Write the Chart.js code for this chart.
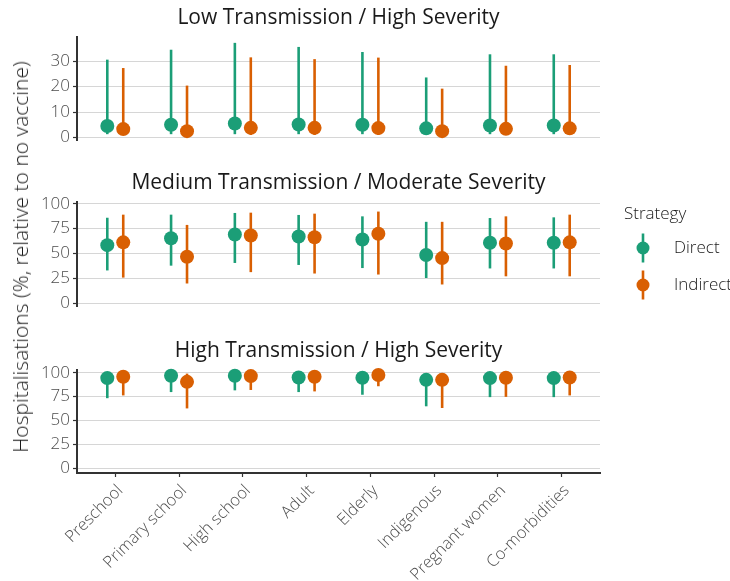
<!DOCTYPE html>
<html>
<head>
<meta charset="utf-8">
<script src="https://cdn.jsdelivr.net/npm/chart.js@4.4.1/dist/chart.umd.min.js"></script>
<style>
  body { margin: 0; background: #fff; }
  #wrap { position: relative; width: 730px; height: 581px; overflow: hidden; }
  canvas { position: absolute; left: 0; }
  #ytitle {
    position: absolute; left: 20px; top: 257px; white-space: nowrap;
    font-family: 'Open Sans', sans-serif; font-weight: 300; font-size: 21px; color: #1a1a1a;
    transform: translate(-50%, -50%) rotate(-90deg);
  }
</style>
</head>
<body>
<div id="wrap">
  <canvas id="low" width="730" height="154" style="top:0px"></canvas>
  <canvas id="medium" width="730" height="155" style="top:165px"></canvas>
  <canvas id="high" width="730" height="249" style="top:333px"></canvas>
  <div id="ytitle">Hospitalisations (%, relative to no vaccine)</div>
</div>
<script>
var categories = ['Preschool', 'Primary school', 'High school', 'Adult', 'Elderly', 'Indigenous', 'Pregnant women', 'Co-morbidities'];
var strategies = ['Direct', 'Indirect'];
var strategyColors = ['#1b9e77', '#d95f02'];

// Low Transmission / High Severity
var lowDirectMid = [4.5, 5.0, 5.5, 5.1, 5.0, 3.6, 4.7, 4.7];
var lowDirectLow = [1.3, 1.3, 1.3, 1.3, 1.3, 1.2, 1.3, 1.3];
var lowDirectHigh = [30.6, 34.5, 37.2, 35.6, 33.6, 23.6, 32.7, 32.7];
var lowIndirectMid = [3.3, 2.5, 3.8, 3.8, 3.7, 2.5, 3.4, 3.6];
var lowIndirectLow = [1.0, 0.8, 1.0, 1.0, 1.0, 0.8, 1.0, 1.0];
var lowIndirectHigh = [27.3, 20.4, 31.5, 30.8, 31.4, 19.2, 28.2, 28.5];
var lowTicks = [0, 10, 20, 30];

// Medium Transmission / Moderate Severity
var medDirectMid = [58.4, 65.3, 69.1, 67.0, 64.0, 48.5, 60.8, 60.8];
var medDirectLow = [33.0, 37.8, 40.5, 38.5, 35.4, 25.4, 35.0, 35.0];
var medDirectHigh = [85.9, 89.0, 90.7, 88.7, 87.3, 81.8, 85.6, 86.3];
var medIndirectMid = [61.2, 46.7, 68.0, 66.3, 69.8, 45.4, 60.1, 61.2];
var medIndirectLow = [25.8, 19.9, 31.3, 29.9, 28.9, 18.9, 27.1, 27.1];
var medIndirectHigh = [89.0, 78.7, 91.0, 90.0, 92.1, 81.8, 87.3, 89.0];

// High Transmission / High Severity
var highDirectMid = [94.3, 96.8, 96.8, 95.0, 94.7, 92.5, 94.3, 94.3];
var highDirectLow = [73.3, 79.7, 81.5, 79.7, 76.9, 64.8, 74.4, 74.4];
var highDirectHigh = [99.0, 99.5, 99.6, 99.4, 99.3, 98.8, 99.2, 99.2];
var highIndirectMid = [95.7, 90.4, 96.4, 95.7, 97.5, 92.5, 94.7, 95.0];
var highIndirectLow = [76.2, 62.6, 81.9, 80.4, 85.8, 63.0, 74.7, 76.2];
var highIndirectHigh = [99.3, 99.0, 99.6, 99.5, 99.9, 99.0, 99.3, 99.3];
var pctTicks = [0, 25, 50, 75, 100];

var FONT = "'Open Sans', sans-serif";
var dodge = 0.125;

function makeDataset(idx, mid, low, high) {
    var pts = [];
    for (var i = 0; i < categories.length; i++) {
        pts.push({x: i + (idx === 0 ? -dodge : dodge), y: mid[i], low: low[i], high: high[i]});
    }
    return {
        label: strategies[idx],
        data: pts,
        backgroundColor: strategyColors[idx],
        borderColor: strategyColors[idx],
        borderWidth: 0,
        pointRadius: 7,
        pointHoverRadius: 7,
        clip: false
    };
}

// vertical interval lines, drawn under the points
var errorBars = {
    id: 'errorBars',
    beforeDatasetsDraw: function (chart) {
        var ctx = chart.ctx;
        var xs = chart.scales.x;
        var ys = chart.scales.y;
        chart.data.datasets.forEach(function (ds) {
            ctx.save();
            ctx.strokeStyle = ds.borderColor;
            ctx.lineWidth = 2.6;
            ds.data.forEach(function (p) {
                var px = xs.getPixelForValue(p.x);
                ctx.beginPath();
                ctx.moveTo(px, ys.getPixelForValue(p.low));
                ctx.lineTo(px, ys.getPixelForValue(p.high));
                ctx.stroke();
            });
            ctx.restore();
        });
    }
};

var strategyLegend = {
    id: 'strategyLegend',
    afterDraw: function (chart) {
        var ctx = chart.ctx;
        ctx.save();
        ctx.font = '300 17px ' + FONT;
        ctx.fillStyle = '#1a1a1a';
        ctx.textBaseline = 'middle';
        ctx.textAlign = 'left';
        ctx.fillText('Strategy', 624, 49);
        var rows = [83, 120];
        for (var i = 0; i < strategies.length; i++) {
            var cy = rows[i];
            ctx.strokeStyle = strategyColors[i];
            ctx.fillStyle = strategyColors[i];
            ctx.lineWidth = 2.6;
            ctx.beginPath();
            ctx.moveTo(643, cy - 14.5);
            ctx.lineTo(643, cy + 14.5);
            ctx.stroke();
            ctx.beginPath();
            ctx.arc(643, cy, 6.5, 0, Math.PI * 2);
            ctx.fill();
            ctx.fillStyle = '#1a1a1a';
            ctx.fillText(strategies[i], 674, cy);
        }
        ctx.restore();
    }
};

function makeChart(id, title, datasets, yMin, yMax, yTicks, showX, extraPlugins) {
    var xAxis = {
        type: 'linear',
        min: -0.6,
        max: 7.6,
        display: showX,
        afterBuildTicks: function (axis) {
            axis.ticks = categories.map(function (c, i) { return {value: i}; });
        },
        ticks: {
            callback: function (v) { return categories[v]; },
            minRotation: 45,
            maxRotation: 45,
            autoSkip: false,
            padding: 4,
            labelOffset: 5,
            color: '#4d4d4d',
            font: {family: FONT, size: 16.5, weight: 300}
        },
        grid: {drawOnChartArea: false, drawTicks: true, tickLength: 4, tickColor: '#333333', tickWidth: 1.2},
        border: {color: '#333333', width: 2}
    };
    if (showX) {
        xAxis.afterFit = function (axis) { axis.height = 109; };
    }
    var config = {
        type: 'scatter',
        data: {datasets: datasets},
        options: {
            responsive: false,
            animation: false,
            devicePixelRatio: 1,
            layout: {padding: {left: 0, right: 130, top: 0, bottom: 0}},
            scales: {
                x: xAxis,
                y: {
                    min: yMin,
                    max: yMax,
                    afterBuildTicks: function (axis) {
                        axis.ticks = yTicks.map(function (v) { return {value: v}; });
                    },
                    afterFit: function (axis) { axis.width = 77; },
                    ticks: {
                        padding: 3,
                        color: '#4d4d4d',
                        font: {family: FONT, size: 17, weight: 300}
                    },
                    grid: {color: '#d6d6d6', lineWidth: 1, tickColor: '#333333', tickLength: 4, tickWidth: 1.2},
                    border: {color: '#333333', width: 2}
                }
            },
            plugins: {
                legend: {display: false},
                tooltip: {enabled: false},
                title: {
                    display: true,
                    text: title,
                    fullSize: false,
                    color: '#1a1a1a',
                    font: {family: FONT, size: 21, weight: 400, lineHeight: 1.2},
                    padding: {top: 5, bottom: 6.8}
                }
            }
        },
        plugins: [errorBars].concat(extraPlugins || [])
    };
    var ctx = document.getElementById(id).getContext('2d');
    return new Chart(ctx, config);
}

makeChart('low', 'Low Transmission / High Severity', [
    makeDataset(0, lowDirectMid, lowDirectLow, lowDirectHigh),
    makeDataset(1, lowIndirectMid, lowIndirectLow, lowIndirectHigh)
], -1.3, 39.5, lowTicks, false);

makeChart('medium', 'Medium Transmission / Moderate Severity', [
    makeDataset(0, medDirectMid, medDirectLow, medDirectHigh),
    makeDataset(1, medIndirectMid, medIndirectLow, medIndirectHigh)
], -3.5, 101.7, pctTicks, false, [strategyLegend]);

makeChart('high', 'High Transmission / High Severity', [
    makeDataset(0, highDirectMid, highDirectLow, highDirectHigh),
    makeDataset(1, highIndirectMid, highIndirectLow, highIndirectHigh)
], -5, 102.8, pctTicks, true);
</script>
</body>
</html>
